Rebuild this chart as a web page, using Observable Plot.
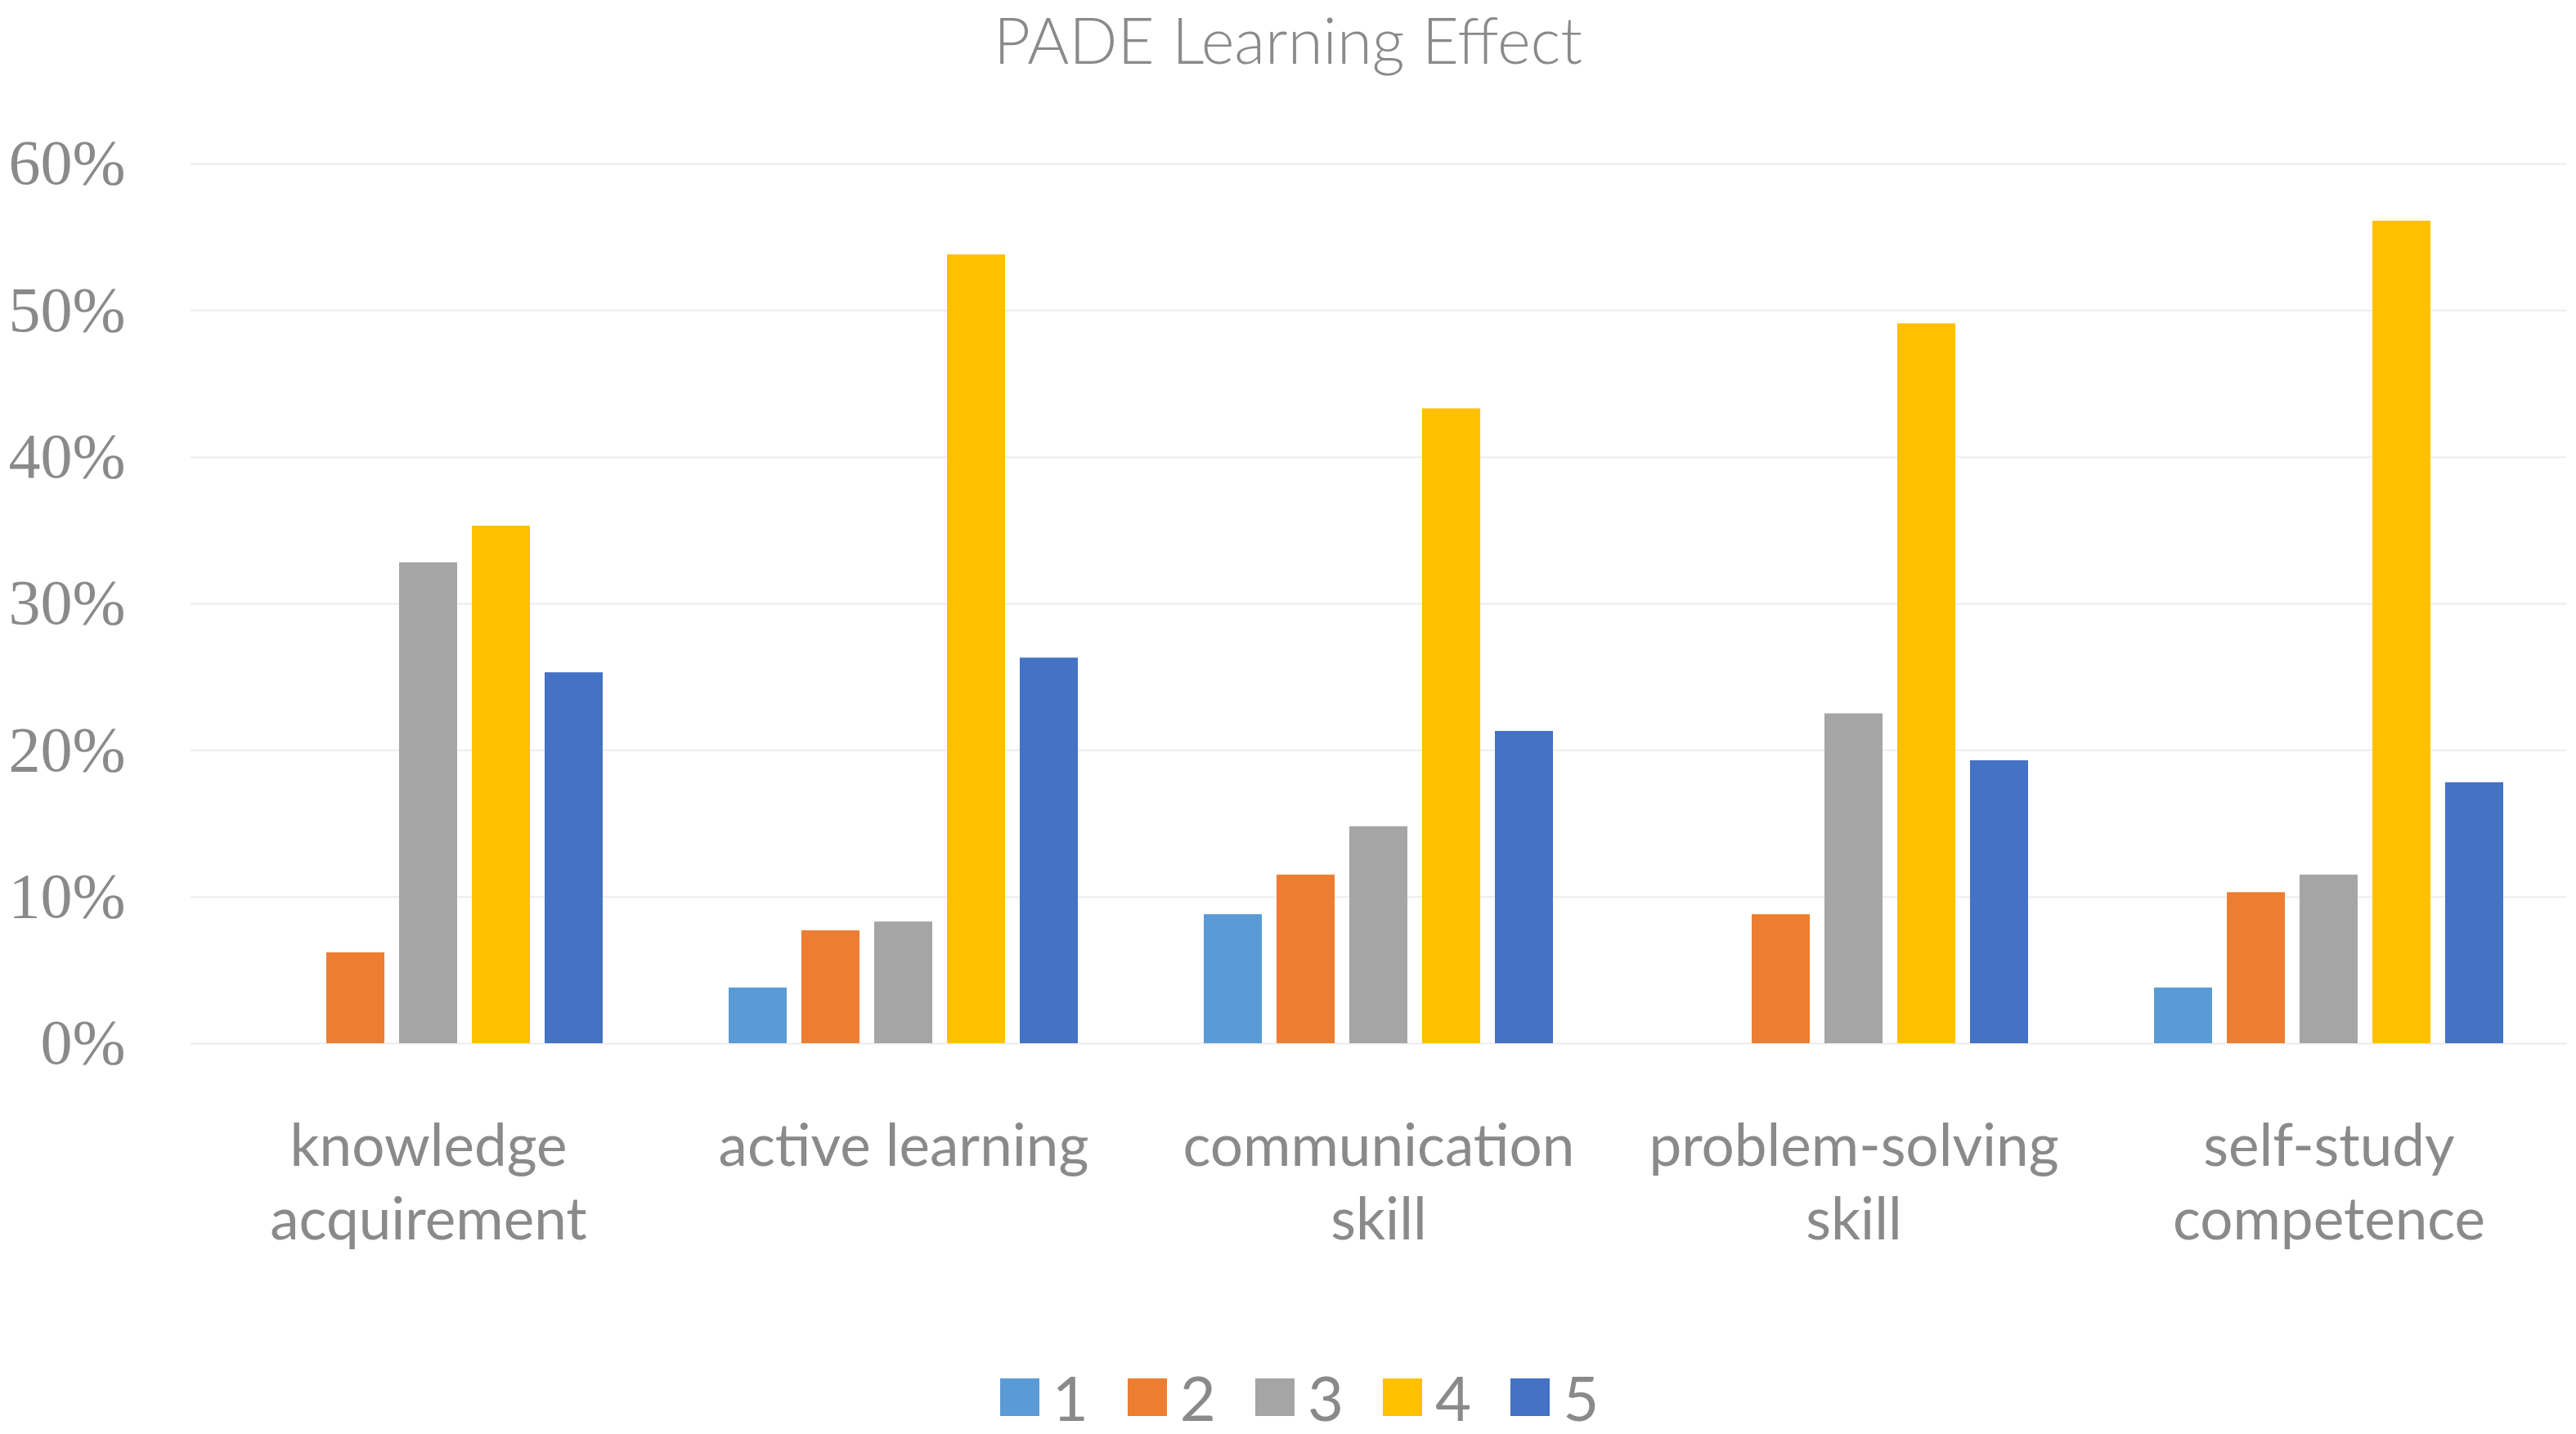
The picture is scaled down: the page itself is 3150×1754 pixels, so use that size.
<!DOCTYPE html>
<html>
<head>
<meta charset="utf-8">
<script src="https://cdn.jsdelivr.net/npm/d3@7"></script>
<script src="https://cdn.jsdelivr.net/npm/@observablehq/plot@0.6"></script>
<style>
  html, body { margin: 0; padding: 0; background: #ffffff; width: 3150px; height: 1754px; overflow: hidden; }
  #title { height: 81px; padding-top: 9px; line-height: 78px; text-align: center; font-family: Lato, "Open Sans", sans-serif; font-weight: 300; font-size: 78px; color: #8a8a8a; }
  #chart { height: 1500px; }
  #legend { display: flex; justify-content: center; align-items: center; height: 60px; padding-top: 89px; padding-left: 28px; font-family: Lato, "Open Sans", sans-serif; font-size: 76px; line-height: 60px; color: #8a8a8a; }
  .item { display: flex; align-items: center; margin-right: 48px; }
  .item:last-child { margin-right: 0; }
  .sw { width: 48px; height: 46px; margin-right: 16px; }
</style>
</head>
<body>
<div id="title">PADE Learning Effect</div>
<div id="chart"></div>
<div id="legend"></div>
<script>
const categories = ["knowledge acquirement", "active learning", "communication skill", "problem-solving skill", "self-study competence"];
const categoryLabels = ["knowledge\nacquirement", "active learning", "communication\nskill", "problem-solving\nskill", "self-study\ncompetence"];
const series = ["1", "2", "3", "4", "5"];
const colors = ["#5B9BD5", "#ED7D31", "#A5A5A5", "#FFC000", "#4472C4"];
const values1 = [0, 3.8, 8.8, 0, 3.8];
const values2 = [6.2, 7.7, 11.5, 8.8, 10.3];
const values3 = [32.8, 8.3, 14.8, 22.5, 11.5];
const values4 = [35.3, 53.8, 43.3, 49.1, 56.1];
const values5 = [25.3, 26.3, 21.3, 19.3, 17.8];
const yTicks = [0, 10, 20, 30, 40, 50, 60];

const allValues = [values1, values2, values3, values4, values5];
const data = [];
series.forEach((s, si) => {
  categories.forEach((c, ci) => {
    data.push({category: c, series: s, value: allValues[si][ci]});
  });
});
const labelOf = new Map(categories.map((c, i) => [c, categoryLabels[i]]));

const textColor = "#8a8a8a";

const chart = Plot.plot({
  width: 3150,
  height: 1500,
  marginLeft: 231,
  marginRight: 10,
  marginTop: 110,
  marginBottom: 314,
  style: {background: "#ffffff", color: textColor},
  fx: {domain: categories, padding: 0},
  x: {type: "band", domain: series, paddingInner: 0.2, paddingOuter: 0.833},
  y: {domain: [0, 60]},
  color: {domain: series, range: colors},
  marks: [
    Plot.gridY(yTicks, {stroke: "#ececec", strokeOpacity: 1, strokeWidth: 2}),
    Plot.barY(data, {fx: "category", x: "series", y: "value", fill: "series"}),
    Plot.axisY(yTicks, {
      anchor: "left",
      tickSize: 0, tickPadding: 80, fontSize: 78,
      fontFamily: "'Liberation Serif', 'DejaVu Serif', serif",
      tickFormat: d => d + "%", label: null, fill: textColor
    }),
    Plot.axisFx({
      anchor: "bottom",
      tickSize: 0, tickPadding: 86, fontSize: 71, lineHeight: 1.268,
      fontFamily: "Lato, 'Open Sans', sans-serif",
      tickFormat: d => labelOf.get(d), label: null, fill: textColor
    }),
    Plot.axisX({ticks: [], label: null, tickSize: 0, tickFormat: () => ""})
  ]
});
document.getElementById("chart").appendChild(chart);

const legend = d3.select("#legend");
series.forEach((s, i) => {
  const item = legend.append("div").attr("class", "item");
  item.append("div").attr("class", "sw").style("background", colors[i]);
  item.append("span").text(s);
});
</script>
</body>
</html>
